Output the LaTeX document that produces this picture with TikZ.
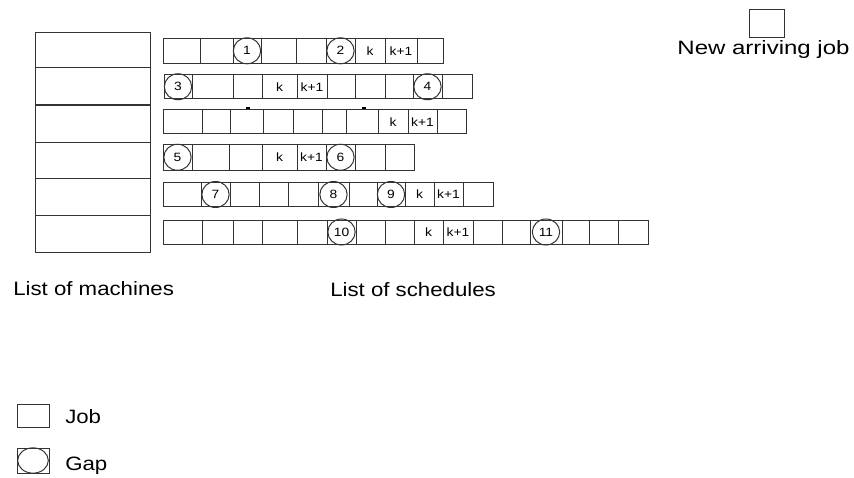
\documentclass[tikz,border=0pt]{standalone}
\usepackage{fontspec}
\setmainfont{Liberation Sans}[FakeStretch=1.15]
\usetikzlibrary{shapes.geometric}

\tikzset{
  cell/.style={draw=black!80, line width=0.75pt},
  gapmark/.style={ellipse, draw=black!80, line width=0.75pt, inner sep=0pt,
    minimum width=20.5pt, minimum height=19.5pt, font=\fontsize{9}{10}\selectfont},
  cellnum/.style={inner sep=0pt, font=\fontsize{9}{10}\selectfont},
  capt/.style={inner sep=0pt, anchor=base west, font=\fontsize{14.5}{16}\selectfont},
}

\begin{document}
\begin{tikzpicture}[x=0.75pt,y=-0.75pt]
  \useasboundingbox (0,0) rectangle (854,478);

  % list of machines
  \draw[cell, line width=1pt] (35.7,32.3) rectangle (150.7,252.3);
  \foreach \y in {67.7,105,142.3,178.3,215.7}
    \draw[cell, line width=1pt] (35.7,\y) -- (150.7,\y);
  \node[capt] (machines) at (13,295) {List of machines};

  % list of schedules, one row per machine
  \foreach \t/\b/\l/\r/\xs in {
      38.3/63.3/163/443/{200,233,261,296,326,355,385,417},
      75/98.5/164/472/{192,233,262,297,327,355,385,413,442},
      110/133.5/163/466/{202,230,263,293,322,346,378,408,437},
      144.5/170/163/414/{192,229,262,297,326,355,385},
      182.5/206.5/163/493/{201,230,259,288,318,349,377,405,434,463},
      220/244/163/648/{202,233,262,297,327,356,385,414,443,473,502,530,562,589,618}} {
    \draw[cell] (\l,\t) rectangle (\r,\b);
    \foreach \x in \xs
      \draw[cell] (\x,\t) -- (\x,\b);
  }
  \draw[line width=1pt] (246,108) -- (250,108);
  \draw[line width=1pt] (361.5,108) -- (365.5,108);

  \foreach \n/\xk/\xp/\y in {1/370/401/50.8, 2/279.5/312/86.75, 3/393/422.5/121.75,
      4/279.5/311.5/157.25, 5/419.5/448.5/194.5, 6/428.5/458/232} {
    \node[cellnum] (k\n) at (\xk,\y) {k};
    \node[cellnum] (kp\n) at (\xp,\y) {k+1};
  }

  \foreach \n/\x/\y in {1/247/50.8, 2/340.5/50.8, 3/178/86.75, 4/427.5/86.75,
      5/177.5/157.25, 6/340.5/157.25, 7/215.5/194.5, 8/333.5/194.5,
      9/391/194.5, 10/341.5/232, 11/546/232}
    \node[gapmark] (gap\n) at (\x,\y) {\n};
  \node[capt] (schedules) at (330,296) {List of schedules};

  % new arriving job
  \draw[cell] (749,10) rectangle (784.3,37.3);
  \node[capt, anchor=base] (newjob) at (763.5,55) {\scalebox{1.08}[1]{New arriving job}};

  % legend
  \draw[cell] (17,404.5) rectangle (49,427.5);
  \node[capt] (jobkey) at (65,423.5) {Job};
  \draw[cell] (17,448) rectangle (49,473);
  \node[gapmark, minimum width=23pt, minimum height=19pt] (gapkey) at (33,460.5) {};
  \node[capt] (gapkeytxt) at (65,470) {Gap};
\end{tikzpicture}
\end{document}
